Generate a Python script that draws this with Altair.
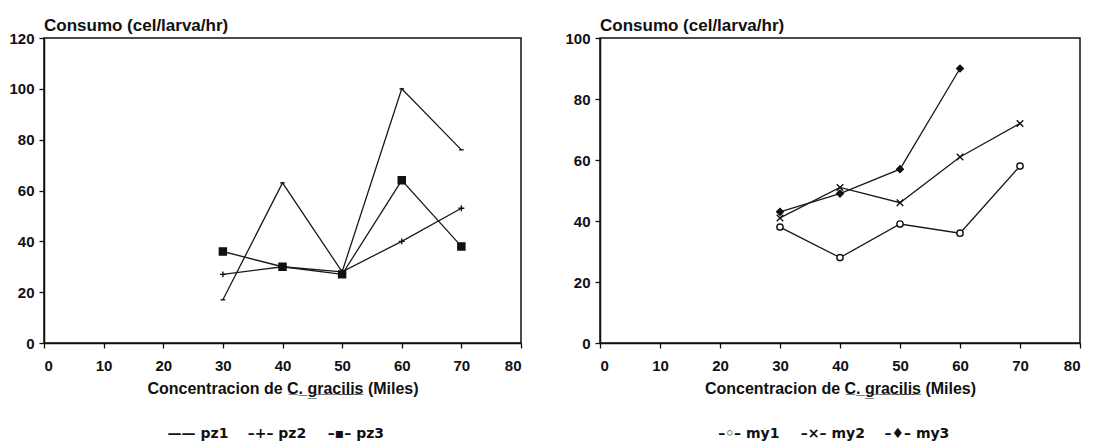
import altair as alt
import pandas as pd

# ---- data ----
conc = [30, 40, 50, 60, 70]
pz1 = [17, 63, 28, 100, 76]
pz2 = [27, 30, 28, 40, 53]
pz3 = [36, 30, 27, 64, 38]
my1 = [38, 28, 39, 36, 58]
my2 = [41, 51, 46, 61, 72]
my3 = [43, 49, 57, 90]          # no value at 70

left_series = ["pz1", "pz2", "pz3"]
right_series = ["my1", "my2", "my3"]
left_legend = ["\u2014\u2014 pz1", "\u2013+\u2013 pz2", "\u2013\u25aa\u2013 pz3"]
right_legend = ["\u2013\u25e6\u2013 my1", "\u2013\u00d7\u2013 my2", "\u2013\u2666\u2013 my3"]

x_ticks = [0, 10, 20, 30, 40, 50, 60, 70, 80]
y_ticks_left = [0, 20, 40, 60, 80, 100, 120]
y_ticks_right = [0, 20, 40, 60, 80, 100]


def long_df(names, values, tag):
    rows = []
    for n, vals in zip(names, values):
        for c, v in zip(conc, vals):
            rows.append({"s" + tag: n, "c" + tag: c, "v" + tag: v})
    return pd.DataFrame(rows)


FONT = "Liberation Sans"
XTITLE = "Concentracion de C\u0332.\u0332 g\u0332r\u0332a\u0332c\u0332i\u0332l\u0332i\u0332s\u0332 (Miles)"

IND = dict(x="independent", y="independent", shape="independent",
           fill="independent", size="independent")


def panel(tag, names, values, ymax, yticks, shapes, fills, sizes, legend_labels,
          width, leg_domain):
    df = long_df(names, values, tag)
    s, c, v = "s" + tag, "c" + tag, "v" + tag
    x = alt.X(c + ":Q", scale=alt.Scale(domain=[0, 80], nice=False),
              axis=alt.Axis(values=x_ticks, title=XTITLE, titlePadding=7,
                            labelPadding=10))
    y = alt.Y(v + ":Q", scale=alt.Scale(domain=[0, ymax], nice=False),
              axis=alt.Axis(values=yticks, title=None, labelPadding=5))
    lines = alt.Chart(df).mark_line(color="#1a1a1a", strokeWidth=1.3).encode(
        x=x, y=y, detail=s + ":N")
    pts = alt.Chart(df).mark_point(strokeWidth=1.4, opacity=1).encode(
        x=x, y=y,
        shape=alt.Shape(s + ":N", scale=alt.Scale(domain=names, range=shapes), legend=None),
        fill=alt.Fill(s + ":N", scale=alt.Scale(domain=names, range=fills), legend=None),
        size=alt.Size(s + ":N", scale=alt.Scale(domain=names, range=sizes), legend=None),
        stroke=alt.value("#111"),
    )
    plot = alt.layer(lines, pts).properties(
        width=width, height=305,
        title=alt.TitleParams("Consumo (cel/larva/hr)", anchor="start", frame="group",
                              dx=0, offset=-4, fontSize=17, font=FONT,
                              fontWeight="bold", color="#111"),
        view=alt.ViewBackground(stroke="#111", strokeWidth=1.5),
    )
    leg_df = pd.DataFrame({"k" + tag: list(range(len(names))), "label": legend_labels})
    leg = alt.Chart(leg_df).mark_text(font="DejaVu Sans", fontSize=14,
                                      fontWeight="bold", color="#111").encode(
        x=alt.X("k" + tag + ":Q", axis=None,
                scale=alt.Scale(domain=leg_domain, nice=False, zero=False)),
        text="label:N",
    ).properties(width=width, height=20, view=alt.ViewBackground(stroke=None))
    return alt.vconcat(plot, leg, spacing=27).resolve_scale(**IND)


left = panel("L", left_series, [pz1, pz2, pz3], 120, y_ticks_left,
             ["M-1,0L1,0", "M-1,0L1,0M0,-1L0,1", "square"],
             ["transparent", "transparent", "#111"], [20, 50, 36], left_legend,
             477, [-1.95, 4.09])
right = panel("R", right_series, [my1, my2, my3], 100, y_ticks_right,
              ["circle", "M-1,-1L1,1M-1,1L1,-1", "diamond"],
              ["white", "transparent", "#111"], [40, 45, 40], right_legend,
              480, [-1.77, 3.94])

chart = alt.hconcat(left, right, spacing=41).resolve_scale(**IND).properties(
    padding={"left": 0, "top": 8, "right": 0, "bottom": 0}
).configure_axis(
    grid=False, labelFont=FONT, labelFontSize=15, labelFontWeight="bold",
    labelColor="#111", tickColor="#111", domainColor="#111", tickSize=5,
    domainWidth=1.5, tickWidth=1.3,
    titleFont=FONT, titleFontSize=16, titleFontWeight="bold", titleColor="#111",
).configure_view(stroke=None)

chart.save("out.html", embed_options={"renderer": "svg", "actions": False})
